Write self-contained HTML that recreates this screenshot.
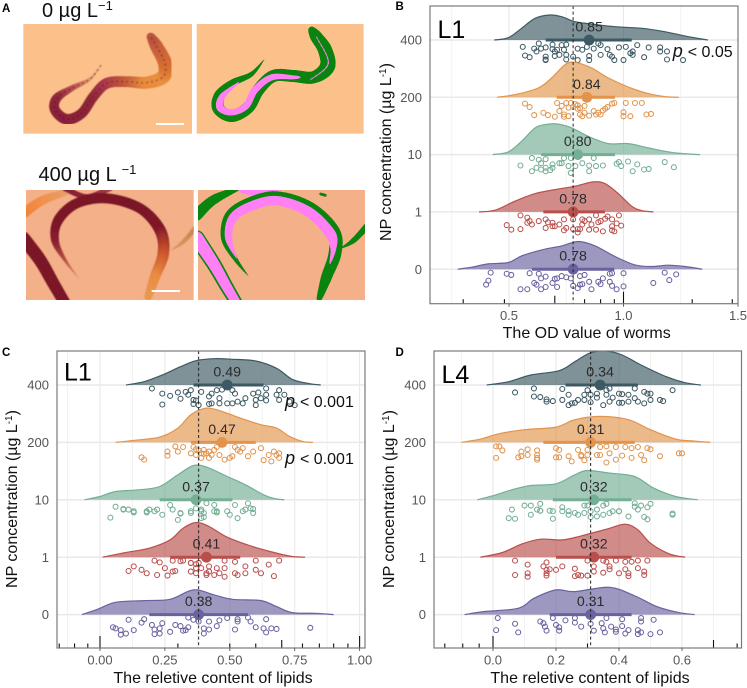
<!DOCTYPE html>
<html lang="en">
<head>
<meta charset="utf-8">
<title>Lipid content raincloud plots</title>
<style>
html,body{margin:0;padding:0;background:#fff;}
svg{display:block;font-family:"Liberation Sans",sans-serif;}
.tick{fill:#555;font-size:13px;}
.title{fill:#111;font-size:16px;}
.sig{fill:#111;font-size:16px;}
.lab{fill:#000;font-size:11.5px;font-weight:bold;}
.hd{fill:#111;font-size:20px;}
.tag{fill:#000;font-size:25px;}
</style>
</head>
<body>
<svg id="fig" xmlns="http://www.w3.org/2000/svg" width="747" height="688" viewBox="0 0 747 688">
<defs>
<filter id="soft" x="-5%" y="-5%" width="110%" height="110%"><feGaussianBlur stdDeviation="1.6"/></filter>
<clipPath id="clipA1"><rect x="70" y="72" width="506" height="329"/></clipPath>
<clipPath id="clipA2"><rect x="590" y="72" width="501" height="329"/></clipPath>
<clipPath id="clipA3"><rect x="78" y="570" width="503" height="330"/></clipPath>
<clipPath id="clipA4"><rect x="594" y="570" width="501" height="330"/></clipPath>
<clipPath id="clipB"><rect x="430" y="6" width="308" height="298"/></clipPath>
<clipPath id="clipC"><rect x="57" y="351" width="308" height="297"/></clipPath>
<clipPath id="clipD"><rect x="434" y="351" width="308" height="297"/></clipPath>
</defs>
<rect width="747" height="688" fill="#fff"/>
<g id="micro" transform="scale(0.33333)">
<rect x="70" y="72" width="506" height="329" fill="#fcc18a"/>
<rect x="590" y="72" width="501" height="329" fill="#fcc18a"/>
<rect x="78" y="570" width="503" height="330" fill="#f3b089"/>
<rect x="594" y="570" width="501" height="330" fill="#f3b089"/>
</g>
<text class="lab" x="2" y="12">A</text>
<text class="lab" x="395.5" y="10">B</text>
<text class="lab" x="2" y="356">C</text>
<text class="lab" x="395.5" y="356">D</text>
<text class="hd" x="42" y="17">0 µg L<tspan dy="-7" font-size="13">−1</tspan></text>
<text class="hd" x="38.5" y="181">400 µg L <tspan dy="-7" font-size="13">−1</tspan></text>
<g id="panelB"></g>
<g id="panelC"></g>
<g id="panelD"></g>
</svg>
<script>
/* Row order, top to bottom */
const concentrationLabels = ['400', '200', '10', '1', '0'];
const rowColors = ['#3d5963', '#e2944c', '#74ae95', '#b94f4c', '#6a629f'];

/* Panel B: OD value of worms, L1 */
const meansB = [0.85, 0.84, 0.80, 0.78, 0.78];
const lowsB = [0.66, 0.708, 0.64, 0.65, 0.60];
const highsB = [1.036, 0.963, 0.963, 0.919, 0.96];
const xTicksB = [0.5, 1.0, 1.5];
const xTickLabelsB = ['0.5', '1.0', '1.5'];
const xMinorGridB = [0.25, 0.75, 1.25];
const rugSmallB = [0.30, 0.48, 0.83, 0.90, 0.96, 1.30, 1.475];
const rugMidB = [0.70];
const rugTallB = [1.0];
const refLineB = 0.78;
const densXB400 = [.436,.497,.555,.614,.679,.73,.788,.861,.963,1.08,1.18,1.283,1.368];
const densYB400 = [0,.23,1.17,2.17,2.5,2.33,1.83,1.6,1.33,1.17,.83,.33,0];
const densXB200 = [.448,.526,.628,.686,.745,.788,.861,.934,1.021,1.108,1.181,1.242];
const densYB200 = [0,.27,.93,1.93,3.27,3.5,2.93,1.93,1.03,.37,.07,0];
const densXB10 = [.429,.497,.555,.614,.657,.708,.774,.846,.934,1.021,1.108,1.225,1.334];
const densYB10 = [0,.27,1.33,2.67,3,3.07,2.67,1.83,1.1,1.1,.67,.17,0];
const densXB1 = [.369,.439,.526,.614,.701,.788,.868,.919,.977,1.036,1.079,1.13];
const densYB1 = [0,.17,1.07,1.83,2.23,2.57,3,2.83,1.83,.57,.13,0];
const densXB0 = [.276,.337,.41,.497,.555,.643,.73,.803,.876,.963,1.05,1.123,1.196,1.269,1.344];
const densYB0 = [0,.2,.53,.67,1.33,1.93,2.33,2.77,2.33,1.27,.43,.27,.4,.27,0];
const pointsB400 = [[.56,.12],[.57,.27],[.59,.30],[.61,.15],[.62,.20],[.63,.06],[.64,.15],[.66,.13],[.66,.29],[.66,.35],[.66,.34],[.69,.08],[.69,.16],[.70,.20],[.71,.17],[.70,.28],[.72,.26],[.73,.09],[.75,.08],[.74,.17],[.75,.26],[.75,.34],[.78,.29],[.80,.35],[.82,.17],[.80,.15],[.84,.12],[.85,.28],[.85,.35],[.87,.15],[.89,.06],[.90,.09],[.90,.26],[.93,.16],[.94,.26],[.95,.29],[.96,.35],[.98,.13],[1.0,.35],[1.01,.12],[1.04,.20],[1.03,.23],[1.06,.09],[1.04,.26],[1.09,.30],[1.11,.13],[1.16,.13],[1.16,.20],[1.19,.20],[1.19,.34],[1.26,.35]];
const pointsB200 = [[.57,.11],[.59,.17],[.61,.31],[.65,.27],[.67,.31],[.70,.34],[.71,.10],[.73,.15],[.72,.24],[.74,.30],[.74,.34],[.76,.33],[.75,.10],[.77,.10],[.78,.17],[.80,.20],[.81,.19],[.83,.15],[.81,.30],[.83,.27],[.82,.33],[.87,.24],[.89,.27],[.91,.23],[.92,.20],[.93,.17],[.95,.11],[.96,.10],[1.0,.26],[1.0,.33],[1.01,.10],[1.03,.33],[1.05,.10],[1.08,.10],[1.10,.30],[1.12,.29],[.79,.12],[.80,.14],[.76,.18],[.85,.32],[.88,.30],[.90,.30]];
const pointsB10 = [[.55,.19],[.60,.06],[.63,.09],[.64,.15],[.62,.23],[.60,.29],[.64,.26],[.66,.23],[.66,.08],[.69,.23],[.69,.17],[.72,.15],[.74,.06],[.77,.06],[.73,.15],[.76,.20],[.79,.20],[.82,.15],[.85,.19],[.87,.06],[.88,.20],[.91,.19],[.97,.16],[.98,.13],[.99,.20],[1.02,.12],[1.06,.17],[1.09,.26],[1.11,.25],[1.18,.13],[1.22,.22],[1.04,.29],[.77,.32],[.85,.29],[.66,.29],[.68,.27]];
const pointsB1 = [[.49,.23],[.51,.31],[.55,.30],[.55,.06],[.58,.10],[.59,.16],[.58,.19],[.60,.22],[.63,.16],[.66,.13],[.67,.18],[.66,.28],[.69,.25],[.69,.19],[.70,.25],[.72,.22],[.74,.13],[.75,.28],[.74,.32],[.78,.30],[.78,.13],[.80,.30],[.82,.13],[.82,.22],[.83,.16],[.81,.30],[.85,.31],[.86,.22],[.85,.13],[.88,.06],[.88,.31],[.89,.18],[.90,.16],[.92,.12],[.93,.08],[.95,.13],[.95,.25],[.98,.06],[.97,.20],[.99,.24],[.95,.32],[.96,.34],[.91,.34],[.80,.36]];
const pointsB0 = [[.42,.06],[.41,.20],[.40,.27],[.49,.08],[.51,.10],[.55,.35],[.58,.35],[.59,.07],[.63,.08],[.64,.16],[.62,.27],[.64,.35],[.66,.31],[.66,.13],[.70,.17],[.69,.24],[.71,.31],[.71,.16],[.73,.12],[.75,.14],[.77,.16],[.78,.29],[.80,.33],[.81,.27],[.82,.26],[.81,.12],[.83,.10],[.85,.22],[.86,.35],[.89,.22],[.91,.16],[.90,.26],[.94,.08],[.95,.07],[.94,.22],[.95,.29],[.97,.35],[1.0,.07],[1.0,.30],[1.13,.24],[1.18,.06],[1.20,.19],[1.23,.09],[.61,.24]];

/* Panel C: relative lipid content, L1 */
const meansC = [0.49, 0.47, 0.37, 0.41, 0.38];
const lowsC = [0.36, 0.35, 0.23, 0.27, 0.19];
const highsC = [0.63, 0.60, 0.51, 0.54, 0.57];
const xTicksC = [0, 0.25, 0.5, 0.75, 1.0];
const xTickLabelsC = ['0.00', '0.25', '0.50', '0.75', '1.00'];
const xMinorGridC = [-0.125, 0.125, 0.375, 0.625, 0.875];
const rugSmallC = [-0.157, -0.098, -0.047, 0.30, 0.50, 0.60, 0.78, 0.845, 0.90, 0.955];
const rugMidC = [0.70];
const rugTallC = [0, 1.0];
const refLineC = 0.38;
const densXC400 = [.10,.17,.24,.31,.37,.44,.51,.60,.68,.74,.80,.85];
const densYC400 = [0,.33,1,1.83,2.43,2.63,2.57,2.4,1.67,.57,.17,0];
const densXC200 = [.06,.13,.23,.30,.35,.41,.47,.54,.62,.68,.73,.78,.82];
const densYC200 = [0,.2,.53,1.43,2.77,3.43,3.1,2.43,1.77,1.43,.6,.1,0];
const densXC10 = [-.06,0,.06,.15,.23,.30,.36,.41,.49,.56,.63,.67,.71];
const densYC10 = [0,.33,.83,1,1.33,2.5,3.43,3.27,2.33,1.5,.5,.13,0];
const densXC1 = [.01,.10,.19,.27,.32,.37,.42,.49,.58,.67,.74,.79];
const densYC1 = [0,.47,.9,1.73,2.9,3.47,3.07,2,1.13,.47,.07,0];
const densXC0 = [-.07,-.01,.06,.17,.27,.36,.44,.51,.62,.68,.74,.83,.90];
const densYC0 = [0,.53,1.23,1.4,1.53,2.47,1.97,1.53,1.4,.8,.2,.13,0];
const pointsC400 = [[.20,.06],[.24,.15],[.24,.34],[.27,.19],[.30,.13],[.31,.24],[.33,.12],[.34,.17],[.35,.09],[.36,.26],[.36,.33],[.37,.27],[.38,.35],[.39,.12],[.42,.33],[.42,.20],[.43,.15],[.43,.32],[.45,.09],[.46,.23],[.46,.32],[.47,.08],[.49,.32],[.51,.09],[.52,.15],[.51,.32],[.53,.29],[.55,.32],[.56,.23],[.59,.15],[.60,.26],[.60,.35],[.61,.13],[.62,.23],[.64,.06],[.64,.17],[.64,.27],[.68,.17],[.69,.09],[.69,.26],[.71,.17],[.73,.29],[.75,.35]];
const pointsC200 = [[.16,.26],[.17,.30],[.26,.23],[.26,.16],[.29,.07],[.30,.16],[.32,.08],[.35,.19],[.36,.08],[.37,.22],[.39,.19],[.39,.27],[.40,.13],[.41,.19],[.42,.27],[.44,.13],[.45,.08],[.46,.22],[.48,.30],[.50,.27],[.51,.24],[.52,.08],[.54,.16],[.55,.10],[.57,.24],[.59,.16],[.62,.10],[.63,.31],[.65,.22],[.66,.33],[.67,.16],[.69,.27],[.69,.19],[.38,.14],[.40,.20],[.42,.16],[.43,.22],[.37,.12],[.53,.13],[.68,.22]];
const pointsC10 = [[.06,.12],[.09,.16],[.11,.17],[.13,.20],[.18,.20],[.19,.17],[.21,.20],[.27,.09],[.28,.17],[.31,.23],[.35,.20],[.37,.15],[.39,.17],[.41,.06],[.44,.09],[.45,.20],[.49,.20],[.52,.09],[.55,.20],[.57,.06],[.58,.15],[.59,.16],[.40,.23],[.04,.31],[.09,.17],[.13,.22],[.18,.22],[.22,.17],[.24,.26],[.30,.35],[.31,.24],[.35,.23],[.39,.20],[.39,.32],[.40,.30],[.45,.22],[.44,.20],[.50,.26],[.53,.32],[.59,.23],[.56,.17]];
const pointsC1 = [[.11,.24],[.13,.16],[.16,.22],[.18,.28],[.21,.06],[.23,.09],[.22,.31],[.25,.19],[.26,.32],[.28,.25],[.29,.24],[.28,.06],[.31,.07],[.32,.06],[.35,.10],[.35,.25],[.35,.10],[.37,.12],[.38,.10],[.37,.28],[.37,.19],[.39,.19],[.41,.31],[.41,.28],[.42,.16],[.42,.25],[.44,.31],[.45,.19],[.46,.28],[.48,.34],[.48,.06],[.48,.19],[.52,.08],[.52,.28],[.53,.31],[.56,.16],[.56,.28],[.60,.06],[.60,.22],[.62,.28],[.65,.13],[.67,.33],[.69,.06]];
const pointsC0 = [[.05,.22],[.06,.24],[.08,.27],[.10,.33],[.08,.35],[.11,.09],[.17,.08],[.16,.14],[.13,.27],[.20,.18],[.21,.26],[.21,.34],[.23,.24],[.24,.15],[.23,.33],[.27,.30],[.29,.18],[.31,.20],[.32,.28],[.34,.22],[.33,.27],[.34,.05],[.36,.09],[.38,.12],[.40,.24],[.40,.33],[.42,.26],[.42,.12],[.45,.20],[.46,.10],[.49,.06],[.52,.26],[.53,.08],[.53,.12],[.57,.05],[.58,.12],[.60,.22],[.64,.08],[.63,.24],[.64,.31],[.66,.24],[.68,.25],[.81,.23]];

/* Panel D: relative lipid content, L4 */
const meansD = [0.34, 0.31, 0.32, 0.32, 0.31];
const lowsD = [0.23, 0.16, 0.19, 0.20, 0.18];
const highsD = [0.46, 0.45, 0.44, 0.44, 0.44];
const xTicksD = [0, 0.2, 0.4, 0.6];
const xTickLabelsD = ['0.0', '0.2', '0.4', '0.6'];
const xMinorGridD = [-0.1, 0.1, 0.3, 0.5, 0.7];
const rugSmallD = [-0.153, -0.096, -0.044, 0.30, 0.775];
const rugMidD = [0.70];
const rugTallD = [0];
const refLineD = 0.31;
const densXD400 = [-.02,.05,.12,.21,.26,.31,.36,.41,.47,.55,.61,.66];
const densYD400 = [0,.33,1,1.43,2.33,3.23,3.4,3,2,.83,.23,0];
const densXD200 = [-.10,-.04,.02,.10,.20,.26,.34,.43,.50,.58,.64,.69];
const densYD200 = [0,.33,.87,1.27,1.53,2.27,2.6,2.27,1.27,.33,.13,0];
const densXD10 = [-.05,.01,.06,.12,.20,.26,.30,.37,.45,.51,.58,.65];
const densYD10 = [0,.5,1,1.43,1.6,2.5,2.93,2.67,2.33,1.17,.33,0];
const densXD1 = [-.04,.03,.09,.15,.22,.28,.36,.42,.46,.50,.56,.61];
const densYD1 = [0,.47,1.3,1.8,1.73,2.13,2.8,3.3,2.73,1.4,.33,0];
const densXD0 = [-.09,-.03,.08,.13,.20,.26,.37,.45,.52,.59,.64];
const densYD0 = [0,.3,.63,1.63,2.47,2.3,2.73,1.87,.8,.2,0];
const pointsD400 = [[.07,.13],[.13,.06],[.13,.20],[.15,.21],[.17,.25],[.17,.29],[.19,.28],[.22,.07],[.22,.26],[.24,.17],[.24,.35],[.25,.32],[.26,.31],[.27,.26],[.29,.26],[.29,.17],[.30,.09],[.31,.17],[.31,.30],[.33,.15],[.35,.35],[.33,.22],[.36,.09],[.36,.17],[.37,.29],[.38,.22],[.37,.06],[.40,.15],[.40,.31],[.41,.16],[.41,.31],[.43,.29],[.43,.17],[.45,.06],[.45,.23],[.46,.29],[.48,.32],[.48,.12],[.49,.15],[.50,.15],[.50,.26],[.53,.26],[.54,.28],[.57,.09]];
const pointsD200 = [[.01,.27],[.01,.07],[.02,.07],[.03,.14],[.08,.26],[.09,.16],[.09,.24],[.11,.12],[.11,.22],[.14,.14],[.14,.22],[.14,.27],[.14,.30],[.20,.10],[.21,.13],[.21,.26],[.20,.26],[.24,.24],[.25,.33],[.27,.13],[.28,.22],[.28,.24],[.29,.31],[.30,.22],[.30,.13],[.33,.22],[.34,.08],[.34,.22],[.36,.35],[.36,.07],[.37,.19],[.39,.08],[.39,.30],[.41,.23],[.42,.08],[.44,.27],[.44,.10],[.46,.08],[.47,.22],[.48,.31],[.49,.10],[.50,.12],[.53,.24],[.59,.19],[.60,.19]];
const pointsD10 = [[.06,.17],[.10,.10],[.12,.10],[.15,.07],[.15,.19],[.14,.17],[.18,.19],[.22,.13],[.24,.20],[.26,.23],[.29,.10],[.30,.10],[.31,.20],[.33,.17],[.35,.10],[.36,.07],[.37,.23],[.40,.20],[.45,.06],[.45,.12],[.47,.10],[.49,.13],[.50,.07],[.57,.24],[.05,.32],[.07,.33],[.12,.26],[.15,.19],[.19,.20],[.19,.33],[.22,.20],[.24,.26],[.27,.26],[.29,.23],[.31,.30],[.33,.29],[.35,.26],[.38,.20],[.40,.20],[.43,.29],[.46,.17],[.48,.30],[.49,.34],[.57,.26]];
const pointsD1 = [[.07,.06],[.11,.13],[.07,.31],[.11,.28],[.11,.34],[.16,.16],[.17,.09],[.17,.22],[.17,.28],[.17,.32],[.18,.21],[.20,.22],[.22,.16],[.26,.20],[.26,.33],[.27,.31],[.28,.32],[.30,.32],[.30,.06],[.32,.16],[.32,.25],[.35,.27],[.35,.06],[.36,.08],[.37,.16],[.37,.21],[.39,.06],[.40,.28],[.42,.08],[.42,.21],[.43,.33],[.44,.08],[.43,.28],[.46,.06],[.46,.19],[.48,.31],[.48,.25],[.49,.06]];
const pointsD0 = [[.01,.27],[.015,.06],[.07,.16],[.08,.31],[.15,.12],[.16,.15],[.165,.21],[.17,.28],[.19,.06],[.20,.18],[.21,.22],[.21,.28],[.23,.10],[.26,.06],[.26,.14],[.28,.21],[.31,.16],[.32,.28],[.345,.15],[.35,.24],[.355,.31],[.36,.06],[.375,.21],[.39,.26],[.39,.30],[.41,.08],[.41,.20],[.42,.33],[.43,.27],[.46,.27],[.47,.06],[.47,.12],[.46,.34],[.47,.31],[.50,.34],[.51,.09],[.53,.31]];

const SVGNS = 'http://www.w3.org/2000/svg';
function mk(tag, attrs, parent) {
  const el = document.createElementNS(SVGNS, tag);
  for (const k in attrs) el.setAttribute(k, attrs[k]);
  parent.appendChild(el);
  return el;
}
function smoothPath(px, py, baseY) {
  let d = 'M' + px[0].toFixed(2) + ' ' + py[0].toFixed(2);
  for (let i = 0; i < px.length - 1; i++) {
    const i0 = Math.max(0, i - 1), i3 = Math.min(px.length - 1, i + 2);
    const c1x = px[i] + (px[i + 1] - px[i0]) / 6;
    const c1y = Math.min(baseY, py[i] + (py[i + 1] - py[i0]) / 6);
    const c2x = px[i + 1] - (px[i3] - px[i]) / 6;
    const c2y = Math.min(baseY, py[i + 1] - (py[i3] - py[i]) / 6);
    d += 'C' + c1x.toFixed(2) + ' ' + c1y.toFixed(2) + ' ' + c2x.toFixed(2) + ' ' + c2y.toFixed(2) + ' ' + px[i + 1].toFixed(2) + ' ' + py[i + 1].toFixed(2);
  }
  return d;
}

function drawPanel(cfg) {
  const root = document.getElementById(cfg.id);
  const xScale = v => cfg.x0 + (v - cfg.v0) * cfg.pxPerUnit;
  const rowScale = r => cfg.firstRow + r * cfg.rowStep;
  const densScale = d => d * 10;

  const area = mk('rect', {x: cfg.left, y: cfg.top, width: cfg.right - cfg.left, height: cfg.bottom - cfg.top, fill: '#fff'}, root);
  
  

  cfg.minorGrid.forEach(v => {
    const el = mk('line', {x1: xScale(v), x2: xScale(v), y1: cfg.top, y2: cfg.bottom, stroke: '#f2f2f2', 'stroke-width': 1}, root);
    
    
  });
  cfg.xTicks.forEach(v => {
    const el = mk('line', {x1: xScale(v), x2: xScale(v), y1: cfg.top, y2: cfg.bottom, stroke: '#e8e8e8', 'stroke-width': 1.1}, root);
    
    
  });
  concentrationLabels.forEach((lab, r) => {
    const el = mk('line', {x1: cfg.left, x2: cfg.right, y1: rowScale(r), y2: rowScale(r), stroke: '#e9e9e9', 'stroke-width': 1.5}, root);
    
    
  });

  const plot = mk('g', {'clip-path': 'url(#' + cfg.clip + ')'}, root);
  
  

  concentrationLabels.forEach((lab, r) => {
    const color = rowColors[r];
    const base = rowScale(r);
    const dx = cfg.densX[r].map(xScale);
    const dy = cfg.densY[r].map(d => base - densScale(d));
    const curve = smoothPath(dx, dy, base);
    const fillArea = mk('path', {d: curve + 'Z', fill: color, 'fill-opacity': 0.66, stroke: 'none'}, plot);
    
    
    const edge = mk('path', {d: curve, fill: 'none', stroke: color, 'stroke-width': 1.2}, plot);
    
    

    cfg.points[r].forEach(p => {
      const c = mk('circle', {cx: xScale(p[0]), cy: rowScale(r + p[1]), r: 2.5, fill: 'none', stroke: color, 'stroke-width': 1.05}, plot);
      
      
    });

    const range = mk('line', {x1: xScale(cfg.lows[r]), x2: xScale(cfg.highs[r]), y1: base, y2: base, stroke: color, 'stroke-width': 3}, plot);
    
    
    const dot = mk('circle', {cx: xScale(cfg.means[r]), cy: base, r: 5.4, fill: color}, plot);
    
    
    const val = mk('text', {x: xScale(cfg.means[r]), y: base - 8.5, 'text-anchor': 'middle', 'font-size': 14.2, fill: '#2b2b2b'}, plot);
    
    
    val.textContent = cfg.means[r].toFixed(2);
  });

  const ref = mk('line', {x1: xScale(cfg.refLine), x2: xScale(cfg.refLine), y1: cfg.top, y2: cfg.bottom, stroke: '#222', 'stroke-width': 1, 'stroke-dasharray': '3 2.6'}, root);
  
  

  const drawRug = (vals, h, name) => vals.forEach(v => {
    const t = mk('line', {x1: xScale(v), x2: xScale(v), y1: cfg.bottom, y2: cfg.bottom - h, stroke: '#111', 'stroke-width': 1.1}, root);
    
    
  });
  drawRug(cfg.rugSmall, 4.5, 'axis-mark-small');
  drawRug(cfg.rugMid, 8, 'axis-mark-medium');
  drawRug(cfg.rugTall, 12, 'axis-mark-tall');

  const frame = mk('rect', {x: cfg.left, y: cfg.top, width: cfg.right - cfg.left, height: cfg.bottom - cfg.top, fill: 'none', stroke: '#7a7a7a', 'stroke-width': 1.2}, root);
  
  

  cfg.xTicks.forEach((v, i) => {
    const tk = mk('line', {x1: xScale(v), x2: xScale(v), y1: cfg.bottom, y2: cfg.bottom + 3, stroke: '#555', 'stroke-width': 0.9}, root);
    
    
    const t = mk('text', {x: xScale(v), y: cfg.bottom + 16.5, 'text-anchor': 'middle', class: 'tick'}, root);
    
    
    t.textContent = cfg.xTickLabels[i];
  });
  concentrationLabels.forEach((lab, r) => {
    const t = mk('text', {x: cfg.left - 8, y: rowScale(r) + 4.6, 'text-anchor': 'end', class: 'tick'}, root);
    
    
    t.textContent = lab;
  });

  const xt = mk('text', {x: cfg.xTitleX, y: cfg.xTitleY, 'text-anchor': 'middle', class: 'title'}, root);
  
  
  xt.textContent = cfg.xTitle;

  const yt = mk('text', {transform: 'translate(' + cfg.yTitleX + ' ' + cfg.yTitleY + ') rotate(-90)', 'text-anchor': 'middle', class: 'title'}, root);
  
  
  yt.appendChild(document.createTextNode('NP concentration (µg L'));
  const sup = mk('tspan', {dy: -5, 'font-size': 10}, yt);
  sup.textContent = '-1';
  const close = mk('tspan', {dy: 5}, yt);
  close.textContent = ')';

  const tag = mk('text', {x: cfg.tagX, y: cfg.tagY, class: 'tag'}, root);
  
  
  tag.textContent = cfg.tag;

  cfg.sig.forEach(s => {
    const t = mk('text', {x: s[0], y: s[1], class: 'sig'}, root);
    
    
    const p = mk('tspan', {'font-style': 'italic', 'font-size': 18}, t);
    p.textContent = 'p';
    const rest = mk('tspan', {dx: 5}, t);
    rest.textContent = '< ' + s[2];
  });
}

drawPanel({id: 'panelB', clip: 'clipB', left: 430, right: 738, top: 6, bottom: 303.7,
  x0: 509, v0: 0.5, pxPerUnit: 229, firstRow: 40, rowStep: 57.3,
  xTicks: xTicksB, xTickLabels: xTickLabelsB, minorGrid: xMinorGridB,
  rugSmall: rugSmallB, rugMid: rugMidB, rugTall: rugTallB, refLine: refLineB,
  means: meansB, lows: lowsB, highs: highsB,
  densX: [densXB400, densXB200, densXB10, densXB1, densXB0],
  densY: [densYB400, densYB200, densYB10, densYB1, densYB0],
  points: [pointsB400, pointsB200, pointsB10, pointsB1, pointsB0],
  xTitle: 'The OD value of worms', xTitleX: 586.7, xTitleY: 338, yTitleX: 391, yTitleY: 152,
  tag: 'L1', tagX: 437.5, tagY: 38, sig: [[672.7, 57, '0.05']]});
drawPanel({id: 'panelC', clip: 'clipC', left: 57, right: 365, top: 351, bottom: 648,
  x0: 100, v0: 0, pxPerUnit: 259.6, firstRow: 385, rowStep: 57.4,
  xTicks: xTicksC, xTickLabels: xTickLabelsC, minorGrid: xMinorGridC,
  rugSmall: rugSmallC, rugMid: rugMidC, rugTall: rugTallC, refLine: refLineC,
  means: meansC, lows: lowsC, highs: highsC,
  densX: [densXC400, densXC200, densXC10, densXC1, densXC0],
  densY: [densYC400, densYC200, densYC10, densYC1, densYC0],
  points: [pointsC400, pointsC200, pointsC10, pointsC1, pointsC0],
  xTitle: 'The reletive content of lipids', xTitleX: 213, xTitleY: 683, yTitleX: 17, yTitleY: 499,
  tag: 'L1', tagX: 64, tagY: 380.7, sig: [[285, 407, '0.001'], [285, 464, '0.001']]});
drawPanel({id: 'panelD', clip: 'clipD', left: 434, right: 741.5, top: 351, bottom: 648,
  x0: 493, v0: 0, pxPerUnit: 315, firstRow: 385, rowStep: 57.4,
  xTicks: xTicksD, xTickLabels: xTickLabelsD, minorGrid: xMinorGridD,
  rugSmall: rugSmallD, rugMid: rugMidD, rugTall: rugTallD, refLine: refLineD,
  means: meansD, lows: lowsD, highs: highsD,
  densX: [densXD400, densXD200, densXD10, densXD1, densXD0],
  densY: [densYD400, densYD200, densYD10, densYD1, densYD0],
  points: [pointsD400, pointsD200, pointsD10, pointsD1, pointsD0],
  xTitle: 'The reletive content of lipids', xTitleX: 590, xTitleY: 683, yTitleX: 394, yTitleY: 499,
  tag: 'L4', tagX: 441.5, tagY: 383, sig: []});

/* Panel A illustrations: tapered worm bodies from centreline nodes [x, y, width, colour] */
function hexMix(a, b, t) {
  const pa = parseInt(a.slice(1), 16), pb = parseInt(b.slice(1), 16);
  const m = s => Math.round(((pa >> s) & 255) * (1 - t) + ((pb >> s) & 255) * t);
  return 'rgb(' + m(16) + ',' + m(8) + ',' + m(0) + ')';
}
function catmull(a, b, c, d, t) {
  return 0.5 * (2 * b + (c - a) * t + (2 * a - 5 * b + 4 * c - d) * t * t + (3 * b - a - 3 * c + d) * t * t * t);
}
function worm(parent, nodes, name, dash, dashColor) {
  const g = mk('g', {'stroke-linecap': 'round'}, parent);
  
  
  const steps = 8;
  const samples = [];
  for (let i = 0; i < nodes.length - 1; i++) {
    const n0 = nodes[Math.max(0, i - 1)], n1 = nodes[i], n2 = nodes[i + 1], n3 = nodes[Math.min(nodes.length - 1, i + 2)];
    for (let s = 0; s < steps; s++) {
      const t = s / steps;
      samples.push([catmull(n0[0], n1[0], n2[0], n3[0], t), catmull(n0[1], n1[1], n2[1], n3[1], t), n1[2] + (n2[2] - n1[2]) * t, hexMix(n1[3], n2[3], t)]);
    }
  }
  const last = nodes[nodes.length - 1];
  samples.push([last[0], last[1], last[2], hexMix(last[3], last[3], 0)]);
  for (let i = 0; i < samples.length - 1; i++) {
    const a = samples[i], b = samples[i + 1];
    mk('line', {x1: a[0], y1: a[1], x2: b[0], y2: b[1], stroke: a[3], 'stroke-width': a[2]}, g);
  }
  if (dash) {
    const pts = samples.map(s => s[0].toFixed(1) + ',' + s[1].toFixed(1)).join(' ');
    mk('polyline', {points: pts, fill: 'none', stroke: dashColor, 'stroke-width': 5, 'stroke-dasharray': dash, 'stroke-linecap': 'round', 'stroke-opacity': 0.45}, g);
  }
}
const micro = document.getElementById('micro');
const layer1 = mk('g', {'clip-path': 'url(#clipA1)'}, micro);


const soft1 = mk('g', {filter: 'url(#soft)'}, layer1);
worm(soft1, [[302,197,1,'#e8a878'],[270,237,10,'#e09a70'],[215,265,18,'#b85050'],[170,295,28,'#8f2a3a'],[165,330,30,'#8a2238'],[200,358,32,'#8a1f3a'],[245,340,30,'#8a2238'],[280,290,30,'#8e2838'],[320,250,32,'#a8364a'],[380,245,32,'#c0583a'],[440,248,36,'#e88a3a'],[490,230,42,'#e89040'],[495,190,42,'#d87030'],[470,140,38,'#c8603a'],[452,110,22,'#b85040']], 'worm-body-raw', '2 13', '#5a1020');

const layer2 = mk('g', {'clip-path': 'url(#clipA2)'}, micro);


const green = '#0b840f', pink = '#ff80f5';
worm(layer2, [[793,178,1,green],[755,222,14,green],[700,248,22,green],[660,285,34,green],[655,325,36,green],[695,348,36,green],[745,322,36,green],[775,270,36,green],[820,228,36,green],[880,228,36,green],[940,232,36,green],[982,200,46,green],[975,150,42,green],[950,112,36,green],[935,90,18,green]], 'worm-outline-segmented', '', '');
worm(layer2, [[715,248,3,pink],[668,288,18,pink],[660,322,22,pink],[695,337,18,pink],[738,318,20,pink],[765,270,20,pink],[815,232,18,pink],[880,232,11,pink],[900,232,2,pink]], 'worm-lipid-segmented', '2 1', pink);
worm(layer2, [[950,112,2,pink],[985,190,3,pink],[930,240,2,pink]], 'worm-lipid-specks', '2 12', pink);

const layer3 = mk('g', {'clip-path': 'url(#clipA3)'}, micro);


const soft3 = mk('g', {filter: 'url(#soft)'}, layer3);
const maroon = '#7a1528';
worm(soft3, [[70,640,30,'#f08030'],[130,600,26,'#f09048'],[205,575,14,'#e8a070']], 'neighbour-worm-upper-left', '', '');
worm(soft3, [[70,715,40,maroon],[120,780,38,maroon],[160,850,36,maroon],[195,910,34,maroon]], 'neighbour-worm-lower-left', '', '');
worm(soft3, [[195,565,18,'#8a2035'],[260,590,14,'#8a2035'],[330,565,18,'#a84050']], 'neighbour-worm-top', '', '');
worm(soft3, [[515,750,2,'#d89a68'],[550,725,12,'#d8905a'],[590,680,16,'#c88050']], 'neighbour-worm-right', '', '');
worm(soft3, [[240,840,1,'#eba880'],[195,780,10,'#b85040'],[165,720,24,'#8a2035'],[175,660,30,maroon],[230,610,30,maroon],[320,595,30,maroon],[420,625,30,maroon],[480,690,34,'#801828'],[490,760,34,'#c8502a'],[465,830,30,'#e88a40'],[445,890,22,'#e89a50']], 'worm-body-400-raw', '', '');

const layer4 = mk('g', {'clip-path': 'url(#clipA4)'}, micro);


worm(layer4, [[590,645,34,green],[640,600,28,green],[715,565,10,green]], 'neighbour-mask-upper-left', '', '');
worm(layer4, [[590,715,48,green],[640,790,44,green],[680,860,40,green],[710,910,36,green]], 'neighbour-mask-lower-left-outline', '', '');
worm(layer4, [[590,715,40,pink],[640,790,34,pink],[680,860,30,pink],[710,910,26,pink]], 'neighbour-mask-lower-left-lipid', '', '');
worm(layer4, [[725,568,20,pink],[780,578,26,pink],[830,568,16,pink]], 'neighbour-mask-top', '', '');
worm(layer4, [[1022,745,2,green],[1060,722,16,green],[1100,680,20,green]], 'neighbour-mask-right', '', '');
worm(layer4, [[962,582,8,green],[976,586,8,green]], 'debris-mask', '', '');
worm(layer4, [[745,828,1,green],[705,775,14,green],[678,715,30,green],[690,650,34,green],[745,612,36,green],[830,592,36,green],[930,625,38,green],[1000,695,40,green],[1005,760,38,green],[980,830,32,green],[958,895,14,green]], 'worm-outline-400-segmented', '', '');
worm(layer4, [[710,775,2,pink],[686,715,22,pink],[698,655,26,pink],[750,620,28,pink],[830,602,28,pink],[925,635,30,pink],[990,700,32,pink],[1000,745,16,pink],[990,790,2,pink]], 'worm-lipid-400-segmented', '', '');

const bar1 = mk('rect', {x: 468, y: 369, width: 84, height: 6, fill: '#fff'}, micro);


const bar2 = mk('rect', {x: 455, y: 870, width: 85, height: 6, fill: '#fff'}, micro);


</script>
</body>
</html>
